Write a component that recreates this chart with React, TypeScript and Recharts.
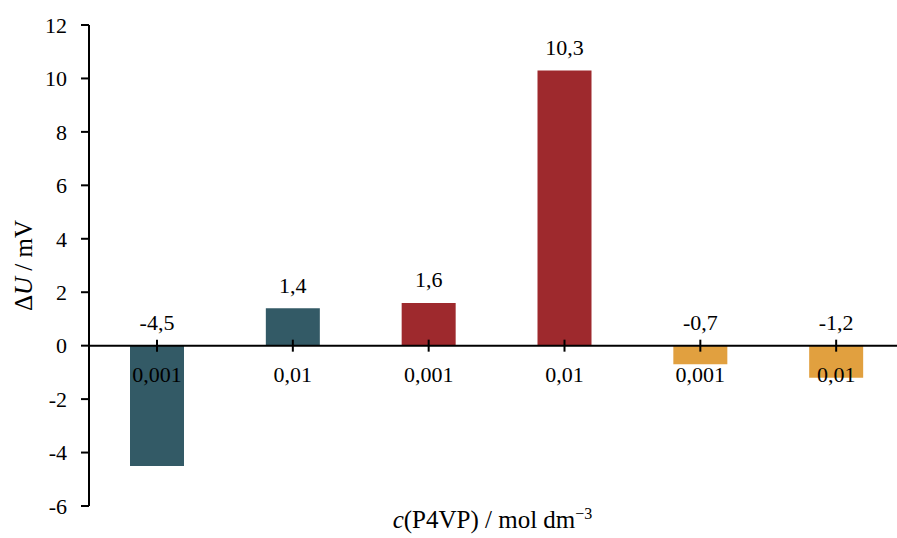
import { BarChart, Bar, Cell, XAxis, YAxis, ReferenceLine, LabelList } from "recharts";

// categorías (concentración) y valores de ΔU
const categorias = ["0,001", "0,01", "0,001", "0,01", "0,001", "0,01"];
const deltaU = [-4.5, 1.4, 1.6, 10.3, -0.7, -1.2];
const yTicks = [-6, -4, -2, 0, 2, 4, 6, 8, 10, 12];

const COLORES = ["#335a66", "#335a66", "#9e292d", "#9e292d", "#e1a03f", "#e1a03f"];
const FONT = "'Liberation Serif', 'Times New Roman', serif";

const data = categorias.map((c, i) => ({ cat: c, v: deltaU[i] }));

const fmtComa = (n: number) => String(n).replace(".", ",");

// etiqueta de valor: arriba de la barra o arriba del eje cero si es negativa
function ValorLabel(props: any) {
  const { x, y, width, height, value } = props;
  const top = Math.min(y, y + height);
  const bottom = Math.max(y, y + height);
  const zero = value >= 0 ? bottom : top;
  const ref = value >= 0 ? top : zero;
  return (
    <text x={x + width / 2} y={ref - 23} textAnchor="middle" dominantBaseline="central"
      fontFamily={FONT} fontSize={22} fill="#000">
      {fmtComa(value)}
    </text>
  );
}

// etiqueta de categoría + marca sobre el eje en cero
function CatLabel(props: any) {
  const { x, y, width, height, value, index } = props;
  const top = Math.min(y, y + height);
  const bottom = Math.max(y, y + height);
  const zero = deltaU[index] >= 0 ? bottom : top;
  const cx = x + width / 2;
  return (
    <g>
      <line x1={cx} x2={cx} y1={zero - 6} y2={zero + 6} stroke="#000" strokeWidth={2} />
      <text x={cx} y={zero + 29} textAnchor="middle" dominantBaseline="central"
        fontFamily={FONT} fontSize={22} fill="#000">
        {value}
      </text>
    </g>
  );
}

export default function App() {
  return (
    <div style={{ width: 897, height: 538, overflow: "hidden", background: "#fff" }}>
      <style>{`body{margin:0}`}</style>
      <BarChart width={904} height={538} data={data} margin={{ top: 25, right: 0, left: 0, bottom: 0 }}>
        <XAxis dataKey="cat" axisLine={false} tickLine={false} tick={false} height={32}
          label={{
            content: (p: any) => {
              const vb = p.viewBox;
              return (
                <text x={vb.x + vb.width / 2 - 4} y={vb.y + 22} textAnchor="middle" fontFamily={FONT} fontSize={25} fill="#000">
                  <tspan fontStyle="italic">c</tspan>
                  <tspan>(P4VP) / mol dm</tspan>
                  <tspan dy={-9} fontSize={16}>−3</tspan>
                </text>
              );
            },
          }}
        />
        <YAxis domain={[-6, 12]} ticks={yTicks} width={89} interval={0}
          axisLine={{ stroke: "#000", strokeWidth: 2 }}
          tickLine={{ stroke: "#000", strokeWidth: 2 }} tickSize={8} tickMargin={14}
          tick={{ fontFamily: FONT, fontSize: 22, fill: "#000" }}
          tickFormatter={(v) => String(v)}
          label={{
            content: (p: any) => {
              const vb = p.viewBox;
              const cx = 23;
              const cy = vb.y + vb.height / 2;
              return (
                <text x={cx} y={cy} transform={`rotate(-90 ${cx} ${cy})`} textAnchor="middle" dominantBaseline="central"
                  fontFamily={FONT} fontSize={25} fill="#000">
                  <tspan>Δ</tspan>
                  <tspan fontStyle="italic">U</tspan>
                  <tspan> / mV</tspan>
                </text>
              );
            },
          }}
        />
        <Bar dataKey="v" barSize={54} isAnimationActive={false}>
          {data.map((_, i) => (
            <Cell key={i} fill={COLORES[i]} />
          ))}
          <LabelList dataKey="v" content={ValorLabel} />
          <LabelList dataKey="cat" content={CatLabel} />
        </Bar>
        <ReferenceLine y={0} stroke="#000" strokeWidth={2} />
      </BarChart>
    </div>
  );
}
